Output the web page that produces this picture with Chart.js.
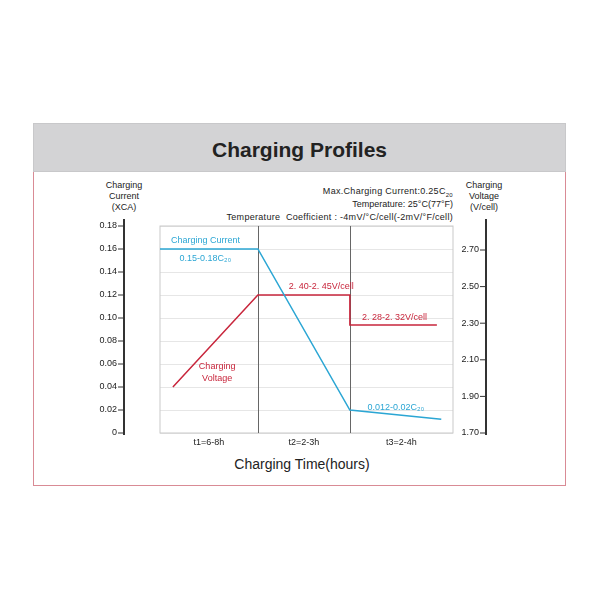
<!DOCTYPE html>
<html><head><meta charset="utf-8">
<script src="https://cdn.jsdelivr.net/npm/chart.js@4"></script>
<style>
body{margin:0;background:#fff;font-family:"Liberation Sans",Arial,sans-serif;}
#wrap{position:relative;width:600px;height:600px;}
#head{position:absolute;left:33px;top:123px;width:533px;height:49px;background:#d3d3d5;border:1px solid #c8c8ca;box-sizing:border-box;text-align:center;font-weight:bold;font-size:21px;line-height:52px;color:#222;}
#box{position:absolute;left:33px;top:172px;width:533px;height:314px;border:1px solid #d98b95;border-top:none;box-sizing:border-box;}
.t{position:absolute;font-size:9px;color:#222;line-height:11px;}
canvas{position:absolute;left:0;top:0;}
</style></head>
<body><div id="wrap">
<div id="head">Charging Profiles</div>
<div id="box"></div>
<div class="t" style="left:94px;top:180px;width:60px;text-align:center">Charging<br>Current<br>(XCA)</div>
<div class="t" style="left:454px;top:180px;width:60px;text-align:center">Charging<br>Voltage<br>(V/cell)</div>
<div class="t" style="right:147px;top:186px;text-align:right;letter-spacing:0.3px">Max.Charging Current:0.25C<sub style="font-size:6px">20</sub></div>
<div class="t" style="right:147px;top:199px;text-align:right">Temperature: 25°C(77°F)</div>
<div class="t" style="right:147px;top:212px;text-align:right;letter-spacing:0.3px">Temperature&nbsp; Coefficient : -4mV/°C/cell(-2mV/°F/cell)</div>
<div class="t" style="left:202px;top:456px;width:200px;text-align:center;font-size:14px;line-height:16px">Charging Time(hours)</div>
<canvas id="c" width="600" height="600"></canvas>
</div>
<script>
const leftTicks = [0, 0.02, 0.04, 0.06, 0.08, 0.10, 0.12, 0.14, 0.16, 0.18];
const rightTicks = [1.70, 1.90, 2.10, 2.30, 2.50, 2.70];
const phaseBounds = [0, 33.4, 64.8, 100];
const phaseLabels = ['t1=6-8h', 't2=2-3h', 't3=2-4h'];
const currentX = [0, 33.4, 64.8, 96];
const currentY = [0.16, 0.16, 0.02, 0.012];
const voltageX = [4.4, 33.4, 64.8, 64.8, 94.5];
const voltageY = [0.04, 0.12, 0.12, 0.094, 0.094];
const BLUE = '#2ba6d4', RED = '#c8263c';

const deco = {
  id: 'deco',
  beforeDatasetsDraw(ch) {
    const {ctx, chartArea: a, scales: {x}} = ch;
    ctx.save();
    ctx.strokeStyle = '#c9c9c9'; ctx.lineWidth = 1;
    ctx.strokeRect(a.left, a.top, a.right - a.left, a.bottom - a.top);
    ctx.strokeStyle = '#666';
    phaseBounds.slice(1, -1).forEach(v => {
      const px = Math.round(x.getPixelForValue(v)) + 0.5;
      ctx.beginPath(); ctx.moveTo(px, a.top); ctx.lineTo(px, a.bottom); ctx.stroke();
    });
    ctx.restore();
  },
  afterDraw(ch) {
    const {ctx, chartArea: a, scales: {x, y, y2}} = ch;
    ctx.save();
    ctx.strokeStyle = '#333'; ctx.fillStyle = '#222';
    ctx.font = '9px "Liberation Sans", Arial';
    ctx.textBaseline = 'middle';
    ctx.lineWidth = 2;
    ctx.beginPath(); ctx.moveTo(124, 219); ctx.lineTo(124, 435); ctx.stroke();
    ctx.beginPath(); ctx.moveTo(486, 219); ctx.lineTo(486, 435); ctx.stroke();
    ctx.lineWidth = 1;
    ctx.textAlign = 'right';
    leftTicks.forEach(v => {
      const py = y.getPixelForValue(v);
      ctx.beginPath(); ctx.moveTo(118, py); ctx.lineTo(124, py); ctx.stroke();
      ctx.fillText(v === 0 ? '0' : v.toFixed(2), 117, py);
    });
    rightTicks.forEach(v => {
      const py = y2.getPixelForValue(v);
      ctx.beginPath(); ctx.moveTo(480, py); ctx.lineTo(486, py); ctx.stroke();
      ctx.fillText(v.toFixed(2), 479, py);
    });
    ctx.textAlign = 'center';
    phaseLabels.forEach((l, i) => {
      const px = (x.getPixelForValue(phaseBounds[i]) + x.getPixelForValue(phaseBounds[i + 1])) / 2;
      ctx.fillText(l, px, a.bottom + 10);
    });
    const lab = (t, vx, vy, c) => {
      ctx.fillStyle = c; ctx.textAlign = 'center';
      ctx.fillText(t, x.getPixelForValue(vx), y.getPixelForValue(vy));
    };
    lab('Charging Current', 15.5, 0.1675, BLUE);
    lab('0.15-0.18C₂₀', 15.5, 0.1515, BLUE);
    lab('2. 40-2. 45V/cell', 55, 0.127, RED);
    lab('2. 28-2. 32V/cell', 80, 0.1005, RED);
    lab('Charging', 19.5, 0.0575, RED);
    lab('Voltage', 19.5, 0.0475, RED);
    lab('0.012-0.02C₂₀', 80.5, 0.0225, BLUE);
    ctx.restore();
  }
};

new Chart(document.getElementById('c'), {
  type: 'line',
  data: {
    datasets: [
      {data: currentX.map((v, i) => ({x: v, y: currentY[i]})), borderColor: BLUE, borderWidth: 1.5, pointRadius: 0, yAxisID: 'y'},
      {data: voltageX.map((v, i) => ({x: v, y: voltageY[i]})), borderColor: RED, borderWidth: 1.5, pointRadius: 0, yAxisID: 'y'}
    ]
  },
  options: {
    responsive: false, animation: false,
    plugins: {legend: {display: false}, tooltip: {enabled: false}},
    layout: {padding: {top: 226, left: 0, right: 0, bottom: 0}},
    scales: {
      x: {type: 'linear', min: 0, max: 100, ticks: {display: false}, grid: {display: false}, border: {display: false},
          afterFit: s => { s.height = 167; }},
      y: {min: 0, max: 0.18, ticks: {display: false, stepSize: 0.02}, border: {display: false},
          grid: {color: '#e6e6e6', drawTicks: false}, afterFit: s => { s.width = 160; }},
      y2: {position: 'right', min: 1.70, max: 1.70 + 207 / 183, ticks: {display: false}, grid: {display: false},
          border: {display: false}, afterFit: s => { s.width = 147; }}
    }
  },
  plugins: [deco]
});
</script>
</body></html>
